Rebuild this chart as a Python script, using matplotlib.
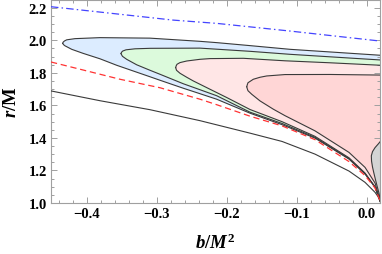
import matplotlib
matplotlib.use('Agg')
import matplotlib.pyplot as plt
from matplotlib.ticker import MultipleLocator

plt.rcParams['font.family'] = ['Liberation Serif', 'DejaVu Serif']
plt.rcParams['font.weight'] = 'bold'
plt.rcParams['mathtext.fontset'] = 'custom'
plt.rcParams['mathtext.rm'] = 'Liberation Serif:bold'
plt.rcParams['mathtext.it'] = 'Liberation Serif:bold:italic'
plt.rcParams['mathtext.bf'] = 'Liberation Serif:bold'

# dash-dot blue line
dd_x = [-0.451, -0.2767, -0.2143, -0.1096, 0.019]
dd_y = [2.2067, 2.1245, 2.1043, 2.0571, 1.9957]

# red dashed line
rd_x = [-0.451, -0.4053, -0.3524, -0.2953, -0.2381, -0.2143, -0.1667, -0.1210, -0.0739, -0.0253, -0.0024, 0.0119, 0.0197]
rd_y = [1.8669, 1.8178, 1.7607, 1.7086, 1.6380, 1.6043, 1.5337, 1.4742, 1.3896, 1.2546, 1.1687, 1.0920, 1.0061]

# black solid line
bk_x = [-0.451, -0.3810, -0.3096, -0.2381, -0.1667, -0.1210, -0.0739, -0.0253, -0.0024, 0.0119, 0.0161, 0.0197]
bk_y = [1.6890, 1.6288, 1.5736, 1.5061, 1.4294, 1.3785, 1.3006, 1.1963, 1.1270, 1.0656, 1.0399, 1.0061]

# blue region (outer tongue): upper and lower edge, both from the tip
blue_up_x = [-0.4343, -0.4336, -0.4318, -0.4286, -0.4167, -0.3810, -0.3096, -0.2381, -0.2143, -0.1667, -0.1096, 0.0204]
blue_up_y = [1.9816, 1.9890, 1.9960, 2.0031, 2.0104, 2.0166, 2.0135, 1.9939, 1.9859, 1.9675, 1.9448, 1.9080]
blue_lo_x = [-0.4343, -0.4331, -0.4310, -0.4214, -0.4053, -0.3810, -0.3571, -0.3096, -0.2953, -0.2620, -0.2381,
             -0.2143, -0.1667, -0.1210, -0.0739, -0.0253, -0.0024, 0.0119, 0.0197]
blue_lo_y = [1.9816, 1.9735, 1.9663, 1.9448, 1.9202, 1.8865, 1.8466, 1.7761, 1.7546, 1.7055, 1.6718,
             1.6380, 1.5521, 1.4816, 1.3988, 1.2699, 1.1779, 1.0982, 1.0061]

# green region
green_up_x = [-0.3510, -0.3503, -0.3486, -0.3439, -0.3310, -0.3096, -0.2381, -0.1667, -0.1096, 0.0204]
green_up_y = [1.9184, 1.9265, 1.9340, 1.9417, 1.9479, 1.9509, 1.9521, 1.9325, 1.9141, 1.8791]
green_lo_x = [-0.3510, -0.3500, -0.3489, -0.3429, -0.3286, -0.3096, -0.2953, -0.2620, -0.2381, -0.2143,
              -0.1667, -0.1210, -0.0739, -0.0253, -0.0024, 0.0119, 0.0197]
green_lo_y = [1.9184, 1.9100, 1.9018, 1.8834, 1.8497, 1.8160, 1.7914, 1.7331, 1.6963, 1.6595,
              1.5583, 1.4890, 1.4037, 1.2730, 1.1810, 1.0982, 1.0061]

# light pink region
lpink_up_x = [-0.2729, -0.2722, -0.2710, -0.2667, -0.2571, -0.2381, -0.2239, -0.1763, -0.1167, -0.0524, 0.0204]
lpink_up_y = [1.8325, 1.8430, 1.8528, 1.8632, 1.8730, 1.8834, 1.8877, 1.8896, 1.8742, 1.8620, 1.8466]
lpink_lo_x = [-0.2729, -0.2717, -0.2667, -0.2571, -0.2477, -0.2239, -0.2000, -0.1667, -0.1210,
              -0.0739, -0.0253, -0.0024, 0.0119, 0.0197]
lpink_lo_y = [1.8325, 1.8160, 1.7975, 1.7730, 1.7503, 1.6994, 1.6485, 1.5748, 1.5000,
              1.4098, 1.2779, 1.1840, 1.0982, 1.0061]

# pink region
pink_up_x = [-0.1714, -0.1706, -0.1696, -0.1620, -0.1524, -0.1429, -0.1167, -0.0524, 0.0204]
pink_up_y = [1.7147, 1.7270, 1.7393, 1.7607, 1.7730, 1.7810, 1.7896, 1.7902, 1.7865]
pink_lo_x = [-0.1714, -0.1706, -0.1696, -0.1643, -0.1524, -0.1334, -0.1167, -0.0739, -0.0253,
             -0.0024, 0.0119, 0.0197]
pink_lo_y = [1.7147, 1.7025, 1.6902, 1.6687, 1.6276, 1.5767, 1.5368, 1.4436, 1.3110,
             1.2190, 1.1227, 1.0061]

# gray region at the right edge
gray_x = [0.0204, 0.0169, 0.0119, 0.0083, 0.0066, 0.0069, 0.0083, 0.0100, 0.0123, 0.0147, 0.0171, 0.0190, 0.0197]
gray_y = [1.3834, 1.3650, 1.3405, 1.3160, 1.2902, 1.2577, 1.2209, 1.1883, 1.1472, 1.1061, 1.0675, 1.0307, 1.0061]

regions = [
    (blue_up_x, blue_up_y, blue_lo_x, blue_lo_y, '#dcecff'),
    (green_up_x, green_up_y, green_lo_x, green_lo_y, '#dcfadc'),
    (lpink_up_x, lpink_up_y, lpink_lo_x, lpink_lo_y, '#ffe6e6'),
    (pink_up_x, pink_up_y, pink_lo_x, pink_lo_y, '#ffd6d6'),
]

edge = '#3a3a3a'
fig, ax = plt.subplots(figsize=(3.82, 2.55), dpi=100)
fig.subplots_adjust(left=0.1335, right=0.9948, bottom=0.2, top=0.998)

for ux, uy, lx, ly, col in regions:
    px = list(ux) + list(lx[::-1])
    py = list(uy) + list(ly[::-1])
    ax.fill(px, py, color=col, lw=0, zorder=1)
for ux, uy, lx, ly, col in regions:
    ax.plot(ux, uy, color=edge, lw=0.8, zorder=3)
    ax.plot(lx, ly, color=edge, lw=0.8, zorder=3)

ax.fill(gray_x, gray_y, color='#d4d4d4', lw=0, zorder=2)
ax.plot(gray_x, gray_y, color=edge, lw=0.8, zorder=3)

ax.plot(bk_x, bk_y, color=edge, lw=0.8, zorder=3)
ax.plot(rd_x, rd_y, color='#ff3333', lw=0.9, ls=(0, (5, 3)), zorder=4)
ax.plot(dd_x, dd_y, color='#4444ff', lw=0.9, ls=(0, (6, 2.5, 1.2, 2.5)), zorder=4)

ax.set_xlim(-0.451, 0.019)
ax.set_ylim(1.0, 2.251)
ax.xaxis.set_major_locator(MultipleLocator(0.1))
ax.xaxis.set_minor_locator(MultipleLocator(0.02))
ax.yaxis.set_major_locator(MultipleLocator(0.2))
ax.yaxis.set_minor_locator(MultipleLocator(0.05))

for s in ax.spines.values():
    s.set_color('#a0a0a0')
    s.set_linewidth(0.8)
ax.tick_params(which='both', direction='in', top=True, right=True, color='#a0a0a0',
               labelsize=10.5, width=0.7)
ax.tick_params(which='major', length=4, pad=3)
ax.tick_params(which='minor', length=2.2)

ax.set_xlabel(r'$b/M^2$', fontsize=13.5, labelpad=9)
ax.set_ylabel(r'$r/\mathrm{M}$', fontsize=13.5, labelpad=6)

plt.savefig('out.png', dpi=100)
